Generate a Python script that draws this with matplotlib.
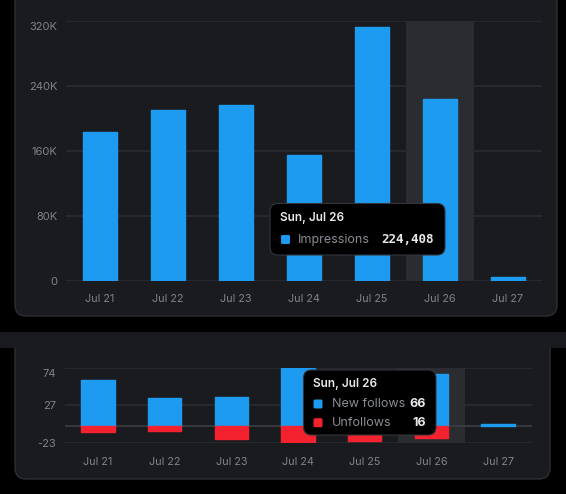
import matplotlib
matplotlib.use("Agg")
import matplotlib.pyplot as plt
from matplotlib.patches import FancyBboxPatch, Rectangle

plt.rcParams['font.family'] = ['Inter', 'DejaVu Sans']
plt.rcParams['axes.unicode_minus'] = False

# data
days = ['Jul 21', 'Jul 22', 'Jul 23', 'Jul 24', 'Jul 25', 'Jul 26', 'Jul 27']
impressions = [183400, 210800, 216200, 155100, 313000, 224408, 4500]
imp_ticks = [0, 80000, 160000, 240000, 320000]
imp_labels = ['0', '80K', '160K', '240K', '320K']
new_follows = [59, 35, 37, 74, 48, 66, 2]
unfollows = [8, 7, 17, 23, 20, 16, 0]
fol_ticks = [-23, 27, 74]
fol_labels = ['-23', '27', '74']
hover_idx = 5
hover_title = 'Sun, Jul 26'

BLUE = '#1d9bf0'
RED = '#f4212e'
CARD = '#1a1b1f'
CARD_EDGE = '#2e2f34'
GRID = '#2a2b30'
BAND = '#2b2c30'
TICK = '#80838b'
WHITE = '#e7e9ea'
LABEL = '#8a8d93'

W, H = 566, 494
fig = plt.figure(figsize=(W / 100, H / 100), dpi=100)
fig.patch.set_facecolor('black')


def px_axes(x0, y0, x1, y1, z):
    # axes placed by pixel box (top-left origin)
    a = fig.add_axes([x0 / W, (H - y1) / H, (x1 - x0) / W, (y1 - y0) / H])
    a.set_zorder(z)
    return a


def style_axes(a, ticks, labels):
    a.set_xlim(-0.5, 6.5)
    a.set_yticks(ticks)
    # top label sits a bit below its gridline, drawn by hand
    a.set_yticklabels(labels[:-1] + [''])
    a.annotate(labels[-1], xy=(0, ticks[-1]), xycoords=('axes fraction', 'data'),
               xytext=(-6, -4.3), textcoords='offset points', ha='right', va='center',
               color=TICK, fontsize=8)
    a.set_xticks(range(len(days)))
    a.set_xticklabels(days)
    a.set_axisbelow(True)
    a.yaxis.grid(True, color=GRID, lw=1.2)
    a.tick_params(length=0, labelcolor=TICK)
    a.tick_params(axis='y', pad=6, labelsize=8)
    a.tick_params(axis='x', labelsize=7.8)
    for s in a.spines.values():
        s.set_visible(False)


def draw_bars(a, vals, color):
    bs = a.bar(range(len(vals)), vals, width=0.5, color=color, edgecolor=color, lw=1, zorder=2)
    for b, v in zip(bs, vals):
        b.set_joinstyle('round')
        if v == 0:
            b.set_linewidth(0)


# background cards
bg = px_axes(0, 0, W, H, 0)
bg.set_xlim(0, W)
bg.set_ylim(H, 0)
bg.axis('off')
bg.add_patch(FancyBboxPatch((15, -30), 542, 346, boxstyle='round,pad=0,rounding_size=11',
                            fc=CARD, ec=CARD_EDGE, lw=1))
bg.add_patch(FancyBboxPatch((15, 335), 535, 144, boxstyle='round,pad=0,rounding_size=11',
                            fc=CARD, ec=CARD_EDGE, lw=1))
bg.add_patch(Rectangle((0, 332), W, 15.5, fc=CARD, ec='none'))

# impressions chart
ax = px_axes(65.7, 21, 541.7, 281, 1)
ax.set_facecolor('none')
ax.axvspan(hover_idx - 0.5, hover_idx + 0.5, color=BAND, lw=0, zorder=1)
draw_bars(ax, impressions, BLUE)
ax.set_ylim(0, 320000)
style_axes(ax, imp_ticks, imp_labels)
ax.tick_params(axis='x', pad=9)

# follows chart
ax2 = px_axes(64.6, 368.3, 531.5, 443.3, 1)
ax2.set_facecolor('none')
ax2.axvspan(hover_idx - 0.5, hover_idx + 0.5, color=BAND, lw=0, zorder=1)
ax2.axhline(0, color='#3b3c41', lw=1.3, zorder=1.5)
draw_bars(ax2, new_follows, BLUE)
draw_bars(ax2, [-u for u in unfollows], RED)
ax2.set_ylim(min(fol_ticks), max(fol_ticks))
style_axes(ax2, fol_ticks, fol_labels)
ax2.tick_params(axis='x', pad=10)

# tooltips
ov = px_axes(0, 0, W, H, 10)
ov.set_xlim(0, W)
ov.set_ylim(H, 0)
ov.axis('off')


def swatch(cx, cy, color):
    ov.add_patch(FancyBboxPatch((cx - 4.5, cy - 4.5), 9, 9, boxstyle='round,pad=0,rounding_size=1.5',
                                fc=color, ec='none'))


ov.add_patch(FancyBboxPatch((270, 203.5), 175, 51.5, boxstyle='round,pad=0,rounding_size=8',
                            fc='black', ec='#34353a', lw=0.8))
ov.text(280, 218, hover_title, color=WHITE, fontsize=8.5, fontweight='semibold', ha='left', va='center')
swatch(285.5, 239.5, BLUE)
ov.text(298, 239.5, 'Impressions', color=LABEL, fontsize=9, ha='left', va='center')
ov.text(433.5, 239.5, f'{impressions[hover_idx]:,}', color=WHITE, fontsize=9, fontweight='bold',
        family='DejaVu Sans Mono', ha='right', va='center')

ov.add_patch(FancyBboxPatch((303.5, 370), 132.5, 65, boxstyle='round,pad=0,rounding_size=8',
                            fc='black', ec='#34353a', lw=0.8))
ov.text(313, 384, hover_title, color=WHITE, fontsize=8.5, fontweight='semibold', ha='left', va='center')
swatch(318, 404, BLUE)
ov.text(332, 404, 'New follows', color=LABEL, fontsize=9, ha='left', va='center')
ov.text(426, 404, str(new_follows[hover_idx]), color=WHITE, fontsize=9, fontweight='bold',
        ha='right', va='center')
swatch(318, 422.7, RED)
ov.text(332, 422.7, 'Unfollows', color=LABEL, fontsize=9, ha='left', va='center')
ov.text(426, 422.7, str(unfollows[hover_idx]), color=WHITE, fontsize=9, fontweight='bold',
        ha='right', va='center')

fig.savefig('out.png', dpi=100, facecolor=fig.get_facecolor())
